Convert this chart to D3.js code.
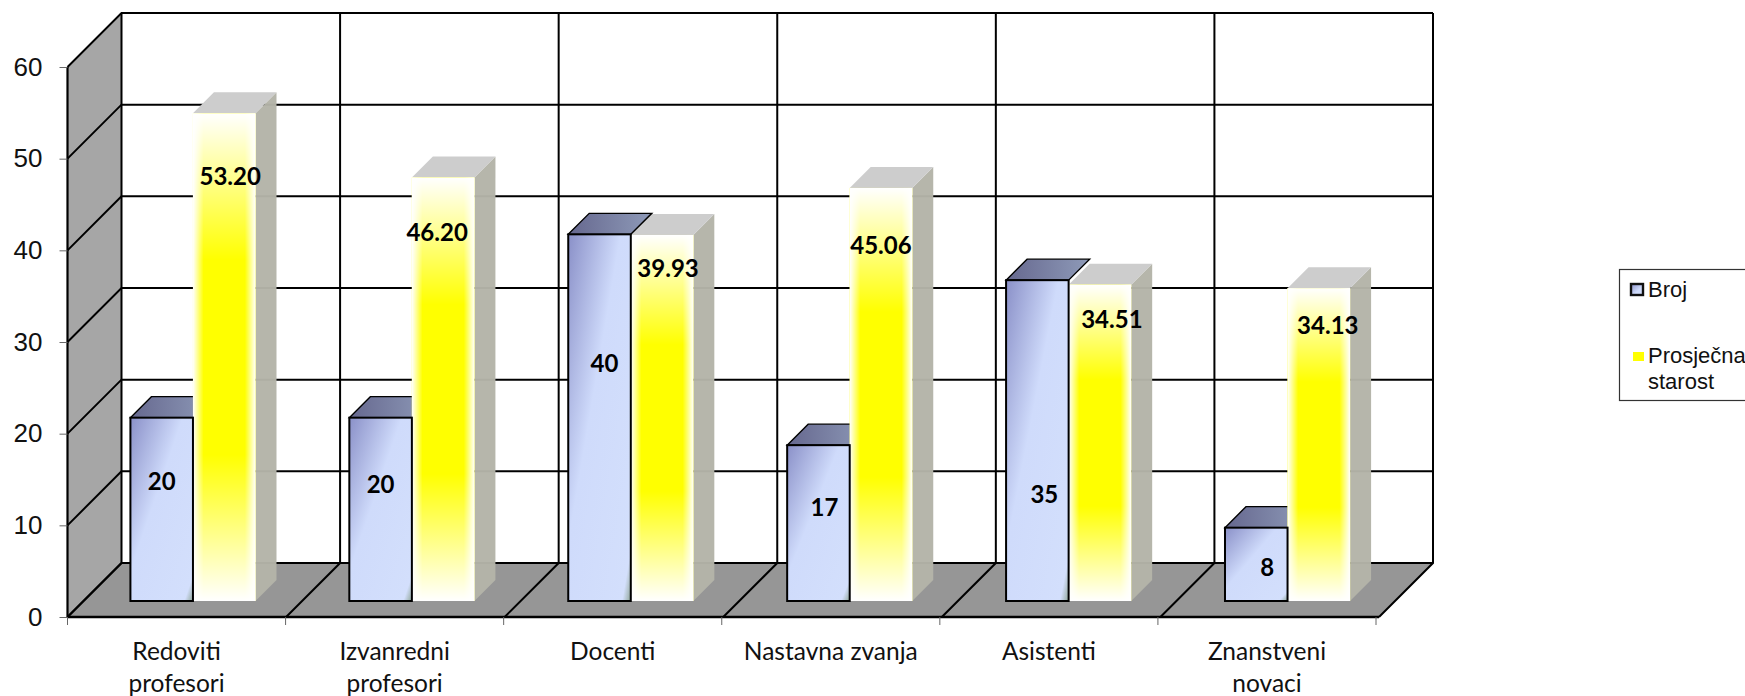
<!DOCTYPE html>
<html>
<head>
<meta charset="utf-8">
<script src="https://cdn.jsdelivr.net/npm/d3@7"></script>
<style>
  html, body { margin: 0; padding: 0; background: #fff; overflow: hidden; }
  svg { display: block; }
  .cat { font-family: Lato, "Noto Sans", sans-serif; font-size: 24.5px; fill: #111; text-anchor: middle; }
  .val { font-family: Lato, "Noto Sans", sans-serif; font-size: 24px; font-weight: 700; fill: #000; text-anchor: middle; }
  .leg { font-family: "Liberation Sans", Arial, sans-serif; font-size: 22px; fill: #111; }
</style>
</head>
<body>
<div id="chart"></div>
<script>
let categories = [
  ['Redoviti', 'profesori'],
  ['Izvanredni', 'profesori'],
  ['Docenti'],
  ['Nastavna zvanja'],
  ['Asistenti'],
  ['Znanstveni', 'novaci']
];
let broj = [20, 20, 40, 17, 35, 8];
let starost = [53.20, 46.20, 39.93, 45.06, 34.51, 34.13];
let yTicks = [0, 10, 20, 30, 40, 50, 60];
let seriesNames = ['Broj', 'Prosječna'];

// data labels were dragged by hand in the original, so nudge them from the bar centre
let brojNudge = [[0, -28], [0, -25], [5, -55], [6, -16], [7, 53], [11, 3]];
let starostNudge = [[6, -181], [-6, -157], [6, -150], [0, -149], [12, -124], [9, -120]];

let width = 1745,
    height = 696;

let plotLeft = 67.5,
    plotRight = 1379,
    barsRight = 1381,
    tickRight = 1376,
    plotBottom = 617,
    plotTop = 67,
    depth = 54,        // wall depth
    barOffset = 16,    // front of bars, from the front plane
    barDepth = 21;

let catIds = categories.map((d, i) => i);

let y = d3.scaleLinear().domain([0, 60]).range([plotBottom, plotTop]);

let x0 = d3.scaleBand()
  .domain(catIds)
  .range([plotLeft, barsRight])
  .paddingInner(3 / 7)
  .paddingOuter(3 / 14);

let x1 = d3.scaleBand()
  .domain(seriesNames)
  .range([0, x0.bandwidth()]);

let catEdge = d3.scaleLinear().domain([0, 6]).range([plotLeft, plotRight]);
let tickEdge = d3.scaleLinear().domain([0, 6]).range([plotLeft, tickRight]);

let $svg = d3.select('#chart').append('svg')
  .attr('width', width)
  .attr('height', height);

let $defs = $svg.append('defs');

function gradient(id, attrs, stops) {
  let g = $defs.append('linearGradient').attr('id', id);
  Object.keys(attrs).forEach(k => g.attr(k, attrs[k]));
  stops.forEach(s => {
    g.append('stop')
      .attr('offset', s[0])
      .attr('stop-color', s[1])
      .attr('stop-opacity', s[2] === undefined ? 1 : s[2]);
  });
}

gradient('blueFront', { x1: 0, y1: 0, x2: 1, y2: 1 }, [
  [0, '#8a90c8'], [0.42, '#cfdbfb'], [0.93, '#d3dffc'], [1, '#8fa596']
]);
gradient('blueTop', { x1: 0, y1: 0, x2: 1, y2: 0 }, [
  [0, '#66688f'], [1, '#8e9ab8']
]);
gradient('fadeV', { x1: 0, y1: 0, x2: 0, y2: 1 }, [
  [0, '#fff', 1], [0.3, '#fff', 0], [0.7, '#fff', 0], [1, '#fff', 1]
]);
gradient('fadeH', { x1: 0, y1: 0, x2: 1, y2: 0 }, [
  [0, '#fff', 1], [0.17, '#fff', 0], [0.83, '#fff', 0], [1, '#fff', 1]
]);
gradient('legBlue', { x1: 0, y1: 0, x2: 1, y2: 1 }, [
  [0, '#8a90c8'], [0.6, '#cfdbfb']
]);

function poly(pts) {
  return 'M' + pts.map(p => p.join(',')).join('L') + 'Z';
}

let $g = $svg.append('g');

// left wall and floor
$g.append('path')
  .attr('d', poly([[plotLeft, plotBottom], [plotLeft + depth, plotBottom - depth], [plotLeft + depth, plotTop - depth], [plotLeft, plotTop]]))
  .attr('fill', '#a6a6a6');
$g.append('path')
  .attr('d', poly([[plotLeft, plotBottom], [plotLeft + depth, plotBottom - depth], [plotRight + depth, plotBottom - depth], [plotRight, plotBottom]]))
  .attr('fill', '#969696');

// gridlines on the walls
let $grid = $g.append('g')
  .attr('fill', 'none')
  .attr('stroke', '#000')
  .attr('stroke-width', 2);

yTicks.forEach(t => {
  $grid.append('path')
    .attr('d', d3.line()([[plotLeft, y(t)], [plotLeft + depth, y(t) - depth], [plotRight + depth, y(t) - depth]]));
});
d3.range(0, 7).forEach(i => {
  $grid.append('path')
    .attr('d', d3.line()([[catEdge(i), plotBottom], [catEdge(i) + depth, plotBottom - depth], [catEdge(i) + depth, plotTop - depth]]));
});
$grid.append('path')
  .attr('d', d3.line()([[plotLeft, plotBottom], [plotLeft, plotTop]]))
  .attr('stroke-width', 2.2);
$grid.append('path')
  .attr('d', d3.line()([[plotLeft, plotBottom], [plotRight, plotBottom]]))
  .attr('stroke-width', 2.6);

// bars
function barX(i, name) {
  return x0(i) + x1(name) + barOffset;
}
function barTop(v) {
  return y(v) - barOffset;
}
let barBase = plotBottom - barOffset;

function topFace(a, t) {
  let w = x1.bandwidth();
  return poly([[a, t], [a + barDepth, t - barDepth], [a + w + barDepth, t - barDepth], [a + w, t]]);
}

// yellow side and top sit behind the blue bar
let $yellowBack = $g.selectAll('.yellowBack')
  .data(starost)
  .enter()
  .append('g')
  .classed('yellowBack', true);

$yellowBack.append('path')
  .attr('d', (d, i) => {
    let a = barX(i, 'Prosječna') + x1.bandwidth(), t = barTop(d);
    return poly([[a, t], [a + barDepth, t - barDepth], [a + barDepth, barBase - barDepth], [a, barBase]]);
  })
  .attr('fill', '#b4b4a8')
  .attr('fill-opacity', 0.97);

$yellowBack.append('path')
  .attr('d', (d, i) => topFace(barX(i, 'Prosječna'), barTop(d)))
  .attr('fill', '#cdcdcd');

$g.selectAll('.blueTop')
  .data(broj)
  .enter()
  .append('path')
  .classed('blueTop', true)
  .attr('d', (d, i) => topFace(barX(i, 'Broj'), barTop(d)))
  .attr('fill', 'url(#blueTop)')
  .attr('stroke', '#000')
  .attr('stroke-width', 1.4);

let $yellow = $g.selectAll('.yellow')
  .data(starost)
  .enter()
  .append('g')
  .classed('yellow', true);

['#ffff00', 'url(#fadeH)', 'url(#fadeV)'].forEach(fill => {
  $yellow.append('rect')
    .attr('x', (d, i) => barX(i, 'Prosječna'))
    .attr('y', d => barTop(d))
    .attr('width', x1.bandwidth())
    .attr('height', d => barBase - barTop(d))
    .attr('fill', fill);
});

$g.selectAll('.blueFront')
  .data(broj)
  .enter()
  .append('rect')
  .classed('blueFront', true)
  .attr('x', (d, i) => barX(i, 'Broj'))
  .attr('y', d => barTop(d))
  .attr('width', x1.bandwidth())
  .attr('height', d => barBase - barTop(d))
  .attr('fill', 'url(#blueFront)')
  .attr('stroke', '#000')
  .attr('stroke-width', 2);

// y axis
let $axis = $svg.append('g')
  .attr('transform', `translate(${plotLeft},0)`)
  .call(d3.axisLeft(y).tickValues(yTicks).tickSize(8).tickPadding(17).tickFormat(d3.format('d')));
$axis.select('.domain').remove();
$axis.selectAll('line').attr('stroke', '#666').attr('stroke-width', 1);
$axis.selectAll('text')
  .style('font-family', '"Liberation Sans", Arial, sans-serif')
  .style('font-size', '26px')
  .attr('fill', '#111');

// x ticks and labels
d3.range(0, 7).forEach(i => {
  $svg.append('line')
    .attr('x1', tickEdge(i)).attr('x2', tickEdge(i))
    .attr('y1', plotBottom).attr('y2', plotBottom + 8)
    .attr('stroke', '#666');
});

$svg.selectAll('.cat')
  .data(categories)
  .enter()
  .append('text')
  .classed('cat', true)
  .attr('transform', (d, i) => `translate(${(tickEdge(i) + tickEdge(i + 1)) / 2},0)`)
  .selectAll('tspan')
  .data(d => d)
  .enter()
  .append('tspan')
  .attr('x', 0)
  .attr('y', (d, i) => 660 + i * 32)
  .text(d => d);

// data labels
$svg.selectAll('.valBroj')
  .data(broj)
  .enter()
  .append('text')
  .attr('class', 'val valBroj')
  .attr('x', (d, i) => barX(i, 'Broj') + x1.bandwidth() / 2 + brojNudge[i][0])
  .attr('y', (d, i) => (barTop(d) + barBase) / 2 + 9 + brojNudge[i][1])
  .text(d => d);

$svg.selectAll('.valStarost')
  .data(starost)
  .enter()
  .append('text')
  .attr('class', 'val valStarost')
  .attr('x', (d, i) => barX(i, 'Prosječna') + x1.bandwidth() / 2 + starostNudge[i][0])
  .attr('y', (d, i) => (barTop(d) + barBase) / 2 + 9 + starostNudge[i][1])
  .text(d => d3.format('.2f')(d));

// legend
let $legend = $svg.append('g');
$legend.append('rect')
  .attr('x', 1619.5).attr('y', 269.5)
  .attr('width', 160).attr('height', 131)
  .attr('fill', '#fff')
  .attr('stroke', '#333')
  .attr('stroke-width', 1.2);
$legend.append('rect')
  .attr('x', 1631).attr('y', 284)
  .attr('width', 12).attr('height', 11)
  .attr('fill', 'url(#legBlue)')
  .attr('stroke', '#111')
  .attr('stroke-width', 2.4);
$legend.append('rect')
  .attr('x', 1633).attr('y', 352)
  .attr('width', 11).attr('height', 9)
  .attr('fill', '#ffff00');
$legend.append('text').classed('leg', true).attr('x', 1648).attr('y', 297).text('Broj');
$legend.append('text').classed('leg', true).attr('x', 1648).attr('y', 363).text('Prosječna');
$legend.append('text').classed('leg', true).attr('x', 1648).attr('y', 389).text('starost');
</script>
</body>
</html>
